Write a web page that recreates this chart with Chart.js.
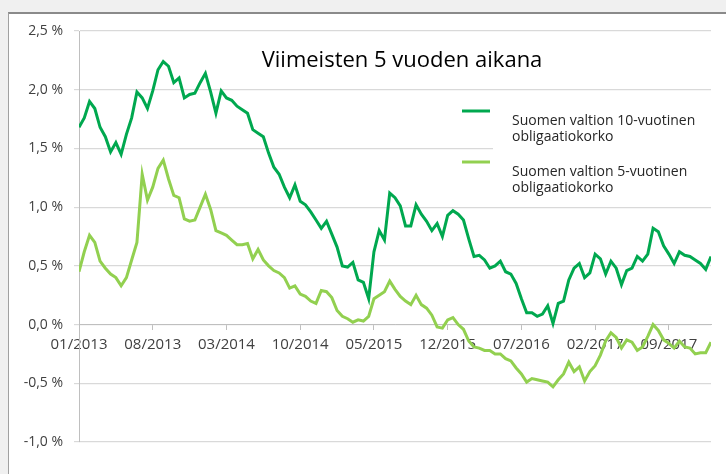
<!DOCTYPE html>
<html><head><meta charset="utf-8">
<script src="https://cdn.jsdelivr.net/npm/chart.js@4/dist/chart.umd.min.js"></script>
<style>
html,body{margin:0;padding:0;width:726px;height:474px;overflow:hidden;background:#f0f0f0;}
#frame{position:absolute;left:8px;top:12px;width:760px;height:500px;background:#fff;border-top:2px solid #8a8a8a;border-left:1px solid #a0a0a0;}
#wrap{position:absolute;left:0;top:0;width:726px;height:474px;}
</style></head><body>
<div id="frame"></div>
<div id="wrap"><canvas id="c" width="726" height="474"></canvas></div>
<script>
const chartTitle = 'Viimeisten 5 vuoden aikana';
const seriesLabels = [
  ['Suomen valtion 10-vuotinen', 'obligaatiokorko'],
  ['Suomen valtion 5-vuotinen', 'obligaatiokorko']
];
const seriesColors = ['#00a84f', '#92d050'];
const startYear = 2013;
const stepMonths = 0.5;
const xTickMonths = [0, 7, 14, 21, 28, 35, 42, 49, 56];
const yTickValues = [-1.0, -0.5, 0.0, 0.5, 1.0, 1.5, 2.0, 2.5];

const tenYear = [
  1.68, 1.76, 1.90, 1.84, 1.68, 1.60, 1.47, 1.55, 1.45, 1.62,
  1.76, 1.98, 1.93, 1.84, 1.99, 2.17, 2.24, 2.20, 2.06, 2.10,
  1.93, 1.96, 1.97, 2.06, 2.14, 1.98, 1.80, 1.99, 1.93, 1.91,
  1.86, 1.83, 1.80, 1.66, 1.63, 1.60, 1.46, 1.34, 1.28, 1.17,
  1.08, 1.19, 1.05, 1.02, 0.96, 0.89, 0.82, 0.88, 0.77, 0.66,
  0.50, 0.49, 0.53, 0.38, 0.36, 0.22, 0.62, 0.80, 0.72, 1.12,
  1.08, 1.01, 0.84, 0.84, 1.02, 0.94, 0.88, 0.80, 0.86, 0.75,
  0.93, 0.97, 0.94, 0.89, 0.73, 0.58, 0.59, 0.55, 0.48, 0.50,
  0.54, 0.45, 0.43, 0.35, 0.22, 0.10, 0.10, 0.07, 0.09, 0.16,
  0.01, 0.18, 0.20, 0.38, 0.48, 0.52, 0.40, 0.44, 0.60, 0.56,
  0.43, 0.54, 0.48, 0.34, 0.46, 0.48, 0.58, 0.54, 0.60, 0.82,
  0.79, 0.67, 0.60, 0.52, 0.62, 0.59, 0.58, 0.55, 0.52, 0.47,
  0.58
];
const fiveYear = [
  0.45, 0.62, 0.76, 0.70, 0.54, 0.48, 0.43, 0.40, 0.33, 0.40,
  0.55, 0.70, 1.28, 1.06, 1.17, 1.33, 1.40, 1.24, 1.10, 1.08,
  0.90, 0.88, 0.89, 1.00, 1.11, 0.98, 0.80, 0.78, 0.76, 0.72,
  0.68, 0.68, 0.69, 0.56, 0.64, 0.55, 0.50, 0.46, 0.44, 0.40,
  0.31, 0.33, 0.26, 0.24, 0.20, 0.18, 0.29, 0.28, 0.23, 0.12,
  0.07, 0.05, 0.02, 0.04, 0.03, 0.07, 0.22, 0.25, 0.28, 0.37,
  0.30, 0.24, 0.20, 0.17, 0.25, 0.17, 0.14, 0.08, -0.02, -0.03,
  0.04, 0.06, 0.00, -0.04, -0.14, -0.19, -0.20, -0.22, -0.22, -0.25,
  -0.25, -0.29, -0.31, -0.37, -0.42, -0.49, -0.46, -0.47, -0.48, -0.49,
  -0.53, -0.47, -0.42, -0.32, -0.40, -0.36, -0.48, -0.40, -0.35, -0.26,
  -0.14, -0.07, -0.11, -0.20, -0.13, -0.15, -0.22, -0.19, -0.10, 0.00,
  -0.05, -0.13, -0.16, -0.20, -0.14, -0.19, -0.20, -0.25, -0.24, -0.24,
  -0.15
];

const toPoints = arr => arr.map((v, i) => ({x: i * stepMonths, y: v}));
const fmtMonth = m => {
  const mm = Math.round(m);
  const mon = (mm % 12) + 1;
  const yr = startYear + Math.floor(mm / 12);
  return (mon < 10 ? '0' : '') + mon + '/' + yr;
};
const FONT = "'Open Sans', 'Liberation Sans', sans-serif";

const overlay = {
  id: 'overlay',
  beforeDatasetsDraw(chart) {
    const {ctx, chartArea: ca} = chart;
    ctx.save();
    ctx.fillStyle = '#ffffff';
    ctx.fillRect(493, 97, ca.right - 493 + 2, 102);
    ctx.restore();
  },
  afterDatasetsDraw(chart) {
    const {ctx} = chart;
    ctx.save();
    ctx.fillStyle = '#000000';
    ctx.font = '22px ' + FONT;
    ctx.textAlign = 'center';
    ctx.textBaseline = 'middle';
    ctx.fillText(chartTitle, 402, 61);
    const rows = [{ly: 111, ty: 121}, {ly: 162, ty: 172}];
    ctx.font = '14px ' + FONT;
    ctx.textAlign = 'left';
    ctx.fillStyle = '#262626';
    chart.data.datasets.forEach((ds, i) => {
      const r = rows[i];
      ctx.strokeStyle = ds.borderColor;
      ctx.lineWidth = 3;
      ctx.beginPath();
      ctx.moveTo(462, r.ly);
      ctx.lineTo(490, r.ly);
      ctx.stroke();
      seriesLabels[i].forEach((line, j) => {
        ctx.fillText(line, 512, r.ty + j * 16);
      });
    });
    ctx.restore();
  }
};

new Chart(document.getElementById('c'), {
  type: 'line',
  data: {
    datasets: [
      {label: seriesLabels[0].join(' '), data: toPoints(tenYear), borderColor: seriesColors[0], backgroundColor: seriesColors[0], borderWidth: 3, pointRadius: 0, tension: 0, fill: false},
      {label: seriesLabels[1].join(' '), data: toPoints(fiveYear), borderColor: seriesColors[1], backgroundColor: seriesColors[1], borderWidth: 3, pointRadius: 0, tension: 0, fill: false}
    ]
  },
  options: {
    responsive: false,
    animation: false,
    devicePixelRatio: 1,
    layout: {padding: {left: 0, top: 31, right: 15, bottom: 32}},
    plugins: {legend: {display: false}, tooltip: {enabled: false}, title: {display: false}},
    scales: {
      x: {
        type: 'linear',
        min: 0,
        max: (tenYear.length - 1) * stepMonths,
        position: {y: 0},
        afterBuildTicks: s => { s.ticks = xTickMonths.map(v => ({value: v})); },
        ticks: {
          autoSkip: false, maxRotation: 0, minRotation: 0, padding: 6,
          color: '#404040', font: {family: FONT, size: 15},
          callback: v => fmtMonth(v)
        },
        grid: {drawOnChartArea: false, drawTicks: true, tickLength: 5, color: '#bfbfbf'},
        border: {display: true, color: '#bfbfbf', width: 1}
      },
      y: {
        min: -1.0, max: 2.5,
        afterBuildTicks: s => { s.ticks = yTickValues.map(v => ({value: v})); },
        afterFit: s => { s.width = 79; },
        ticks: {
          padding: 11, color: '#404040', font: {family: FONT, size: 14},
          callback: v => v.toFixed(1).replace('.', ',') + ' %'
        },
        grid: {color: '#d9d9d9', lineWidth: 1.2, drawTicks: true, tickLength: 5},
        border: {display: true, color: '#bfbfbf', width: 1}
      }
    }
  },
  plugins: [overlay]
});
</script>
</body></html>
